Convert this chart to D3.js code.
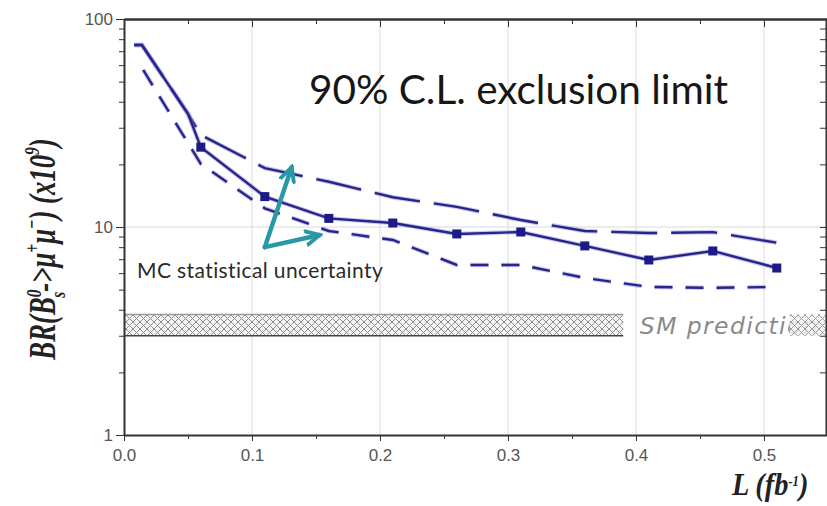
<!DOCTYPE html>
<html>
<head>
<meta charset="utf-8">
<script src="https://cdn.jsdelivr.net/npm/d3@7"></script>
<style>
  body { margin: 0; background: #fff; }
  .axis text { font-family: "Liberation Sans", Arial, sans-serif; font-size: 17px; fill: #555; }
  .axis path, .axis line { stroke: #333; }
</style>
</head>
<body>
<svg width="827" height="506"></svg>
<script>
// luminosity points (fb^-1) and the 90% CL limits (x10^-9)
var lumi     = [0.008, 0.014, 0.05, 0.06, 0.11, 0.16, 0.21, 0.26, 0.31, 0.36, 0.41, 0.46, 0.51];
var limit    = [75, 75, 35, 24.2, 14.0, 11.0, 10.45, 9.26, 9.46, 8.11, 6.94, 7.67, 6.35];
var limitUp  = [75, 75, 35, 27.7, 19.2, 16.5, 13.9, 12.5, 10.8, 9.57, 9.35, 9.45, 8.4];
var lumiLow  = [0.015, 0.06, 0.11, 0.16, 0.21, 0.26, 0.31, 0.36, 0.41, 0.46, 0.51];
var limitLow = [56.9, 20.1, 12.3, 9.57, 8.66, 6.57, 6.57, 5.69, 5.15, 5.1, 5.15];
var smBand   = [3.0, 3.8];
var xTicks   = [0, 0.1, 0.2, 0.3, 0.4, 0.5];
var xMinor   = [0.05, 0.15, 0.25, 0.35, 0.45, 0.55];
var yTicks   = [1, 10, 100];
var yMinor   = [2, 3, 4, 5, 6, 7, 8, 9, 20, 30, 40, 50, 60, 70, 80, 90];

var svg = d3.select("svg");

var x = d3.scaleLinear().domain([0, 0.55]).range([124, 828]);
var y = d3.scaleLog().domain([1, 100]).range([435, 19]);

var defs = svg.append("defs");
var pat = defs.append("pattern")
    .attr("id", "hatch")
    .attr("patternUnits", "userSpaceOnUse")
    .attr("width", 7).attr("height", 7);
pat.append("rect").attr("width", 7).attr("height", 7).attr("fill", "#f4f4f4");
pat.append("path").attr("d", "M0,0L7,7M7,0L0,7M-1,6L1,8M6,-1L8,1")
    .attr("stroke", "#8e8e8e").attr("stroke-width", 1);

defs.append("marker")
    .attr("id", "head")
    .attr("viewBox", "0 0 12 12")
    .attr("refX", 10).attr("refY", 6)
    .attr("markerWidth", 18).attr("markerHeight", 18)
    .attr("markerUnits", "userSpaceOnUse")
    .attr("orient", "auto")
  .append("path")
    .attr("d", "M1,1.5L10,6L1,10.5")
    .attr("fill", "none").attr("stroke", "#2a97a7")
    .attr("stroke-width", 2.6).attr("stroke-linecap", "round");

// grid
svg.append("g").selectAll("line")
    .data(xTicks.slice(1))
    .enter().append("line")
    .attr("x1", d => x(d)).attr("x2", d => x(d))
    .attr("y1", y(100)).attr("y2", y(1))
    .attr("stroke", "#dadada").attr("stroke-width", 1);
svg.append("line")
    .attr("x1", x(0)).attr("x2", x(0.55))
    .attr("y1", y(10)).attr("y2", y(10))
    .attr("stroke", "#dadada").attr("stroke-width", 1);

// SM prediction band
svg.append("rect")
    .attr("x", x(0)).attr("width", x(0.39) - x(0))
    .attr("y", y(smBand[1])).attr("height", y(smBand[0]) - y(smBand[1]))
    .attr("fill", "url(#hatch)");
svg.append("line")
    .attr("x1", x(0)).attr("x2", x(0.39))
    .attr("y1", y(smBand[1])).attr("y2", y(smBand[1]))
    .attr("stroke", "#999").attr("stroke-width", 1.5);
svg.append("line")
    .attr("x1", x(0)).attr("x2", x(0.39))
    .attr("y1", y(smBand[0])).attr("y2", y(smBand[0]))
    .attr("stroke", "#444").attr("stroke-width", 1.5);

svg.append("text")
    .attr("x", x(0.403)).attr("y", y(smBand[0]) - 2)
    .attr("font-family", "DejaVu Sans, Verdana, sans-serif")
    .attr("font-style", "italic")
    .attr("font-size", 23.5)
    .attr("letter-spacing", 1.4)
    .attr("fill", "#8a8a8a")
    .text("SM prediction");

svg.append("rect")
    .attr("x", x(0.52)).attr("width", x(0.55) - x(0.52))
    .attr("y", y(smBand[1])).attr("height", y(smBand[0]) - y(smBand[1]))
    .attr("fill", "url(#hatch)").attr("opacity", 0.85);

// limit curves
var line = d3.line().x(d => x(d[0])).y(d => y(d[1]));
var central = d3.zip(lumi, limit);
var upper = d3.zip(lumi, limitUp);
var lower = d3.zip(lumiLow, limitLow);

function curve(data, dash) {
  svg.append("path").datum(data)
      .attr("d", line).attr("fill", "none")
      .attr("stroke", "#8a84e0").attr("stroke-opacity", 0.45)
      .attr("stroke-width", 4.5).attr("stroke-dasharray", dash);
  svg.append("path").datum(data)
      .attr("d", line).attr("fill", "none")
      .attr("stroke", "#27248a").attr("stroke-width", 2.4)
      .attr("stroke-dasharray", dash);
}
curve(upper, "46,14");
curve(lower, "18,13");
curve(central, null);

svg.append("g").selectAll("rect")
    .data(central.slice(3))
    .enter().append("rect")
    .attr("x", d => x(d[0]) - 4.5).attr("y", d => y(d[1]) - 4.5)
    .attr("width", 9).attr("height", 9)
    .attr("fill", "#1d1a86");

// axes
svg.append("g").attr("class", "axis")
    .attr("transform", "translate(" + x(0) + ",0)")
    .call(d3.axisLeft(y).tickValues(yTicks).tickSize(8).tickSizeOuter(0).tickFormat(d3.format("d")))
    .call(g => g.select(".domain").attr("stroke-width", 2));
svg.append("g").attr("class", "axis")
    .attr("transform", "translate(" + x(0) + ",0)")
    .call(d3.axisLeft(y).tickValues(yMinor).tickSize(5).tickSizeOuter(0).tickFormat(""));

svg.append("g").attr("class", "axis")
    .attr("transform", "translate(0," + y(1) + ")")
    .call(d3.axisBottom(x).tickValues(xTicks).tickSize(6).tickSizeOuter(0).tickPadding(8).tickFormat(d3.format(".1f")))
    .call(g => g.select(".domain").attr("stroke-width", 2));
svg.append("g").attr("class", "axis")
    .attr("transform", "translate(0," + y(1) + ")")
    .call(d3.axisBottom(x).tickValues(xMinor).tickSize(4).tickSizeOuter(0).tickFormat(""));

svg.append("g").attr("class", "axis")
    .attr("transform", "translate(0," + y(100) + ")")
    .call(d3.axisBottom(x).tickValues(xTicks).tickSize(8).tickSizeOuter(0).tickFormat(""))
    .call(g => g.select(".domain").attr("stroke-width", 2.5));
svg.append("g").attr("class", "axis")
    .attr("transform", "translate(0," + y(100) + ")")
    .call(d3.axisBottom(x).tickValues(xMinor).tickSize(5).tickSizeOuter(0).tickFormat(""));

svg.append("g").attr("class", "axis")
    .attr("transform", "translate(826,0)")
    .call(d3.axisLeft(y).tickValues(yTicks.concat(yMinor)).tickSize(6).tickSizeOuter(0).tickFormat(""))
    .call(g => g.select(".domain").attr("stroke-width", 2));

// annotations
svg.append("text")
    .attr("x", 309).attr("y", 104)
    .attr("font-family", "Lato, 'Open Sans', sans-serif")
    .attr("font-size", 40.5)
    .attr("fill", "#161616")
    .text("90% C.L. exclusion limit");

svg.append("text")
    .attr("x", 137).attr("y", 278)
    .attr("font-family", "Lato, 'Open Sans', sans-serif")
    .attr("font-size", 21)
    .attr("letter-spacing", 0.4)
    .attr("fill", "#2a2a2a")
    .text("MC statistical uncertainty");

var arrowFrom = [0.110, 8.0];
var arrowTo = [[0.131, 19.4], [0.153, 9.15]];
svg.append("g").selectAll("line")
    .data(arrowTo)
    .enter().append("line")
    .attr("x1", x(arrowFrom[0])).attr("y1", y(arrowFrom[1]))
    .attr("x2", d => x(d[0])).attr("y2", d => y(d[1]))
    .attr("stroke", "#2a97a7").attr("stroke-width", 4.5)
    .attr("stroke-linecap", "round")
    .attr("marker-end", "url(#head)");

// axis titles
var yl = svg.append("text")
    .attr("transform", "translate(55,249) rotate(-90) scale(1.03,1.45)")
    .attr("text-anchor", "middle")
    .attr("font-family", "'Liberation Serif', 'Times New Roman', serif")
    .attr("font-style", "italic").attr("font-weight", "bold")
    .attr("font-size", 26)
    .attr("fill", "#222");
yl.append("tspan").text("BR(B");
yl.append("tspan").attr("dy", -10).attr("font-size", 15).text("0");
yl.append("tspan").attr("dx", -8).attr("dy", 17).attr("font-size", 15).text("s");
yl.append("tspan").attr("dy", -7).text("->μ");
yl.append("tspan").attr("dy", -11).attr("font-size", 15).text("+");
yl.append("tspan").attr("dy", 11).text("μ");
yl.append("tspan").attr("dy", -11).attr("font-size", 15).text("−");
yl.append("tspan").attr("dy", 11).text(")  (x10");
yl.append("tspan").attr("dy", -11).attr("font-size", 15).text("9");
yl.append("tspan").attr("dy", 11).text(")");

var xl = svg.append("text")
    .attr("transform", "translate(732,495) scale(1.05,1.15)")
    .attr("font-family", "'Liberation Serif', 'Times New Roman', serif")
    .attr("font-style", "italic").attr("font-weight", "bold")
    .attr("font-size", 27)
    .attr("fill", "#222");
xl.append("tspan").text("L (fb");
xl.append("tspan").attr("dy", -8).attr("font-size", 12).text("-1");
xl.append("tspan").attr("dy", 8).text(")");
</script>
</body>
</html>
